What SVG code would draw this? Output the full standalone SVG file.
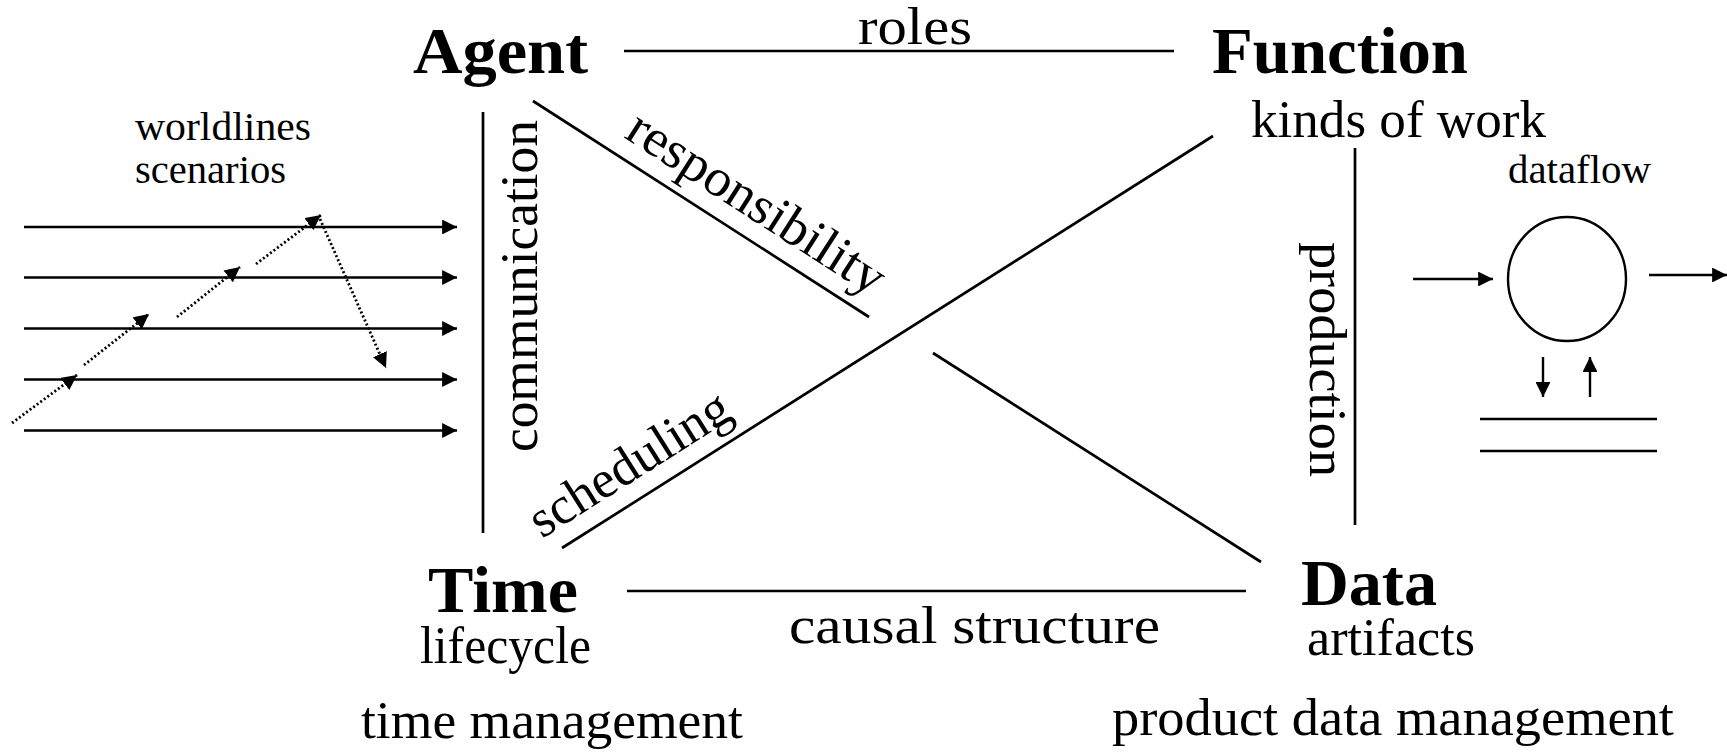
<svg xmlns="http://www.w3.org/2000/svg" width="1727" height="752" viewBox="0 0 1727 752">
<defs>
<style>
text{font-family:"Liberation Serif","Times New Roman",serif;fill:#000}
.title{font-size:66px;font-weight:bold}
.lab{font-size:53px}
.small{font-size:39px}
.edge{stroke:#000;stroke-width:2.7;fill:none}
.wl{stroke:#000;stroke-width:2.4;fill:none}
.dot{stroke:#000;stroke-width:2.8;fill:none;stroke-dasharray:2 2.4}
</style>
<marker id="ah" viewBox="0 0 10 10" refX="10" refY="5" markerWidth="6.4" markerHeight="6.2" markerUnits="strokeWidth" orient="auto">
<path d="M0,0 L10,5 L0,10 z" fill="#000"/>
</marker>
<marker id="ahd" viewBox="0 0 10 10" refX="10" refY="5" markerWidth="5.4" markerHeight="5.4" markerUnits="strokeWidth" orient="auto">
<path d="M0,0 L10,5 L0,10 z" fill="#000"/>
</marker>
</defs>
<rect width="1727" height="752" fill="#fff"/>

<g id="connectors">
<line class="edge" x1="624" y1="51" x2="1174" y2="51"/>
<line class="edge" x1="627" y1="591" x2="1246" y2="591"/>
<line class="edge" x1="483" y1="112" x2="483" y2="533"/>
<line class="edge" x1="1355" y1="148" x2="1355" y2="525"/>
<line class="edge" x1="533" y1="101" x2="869" y2="317"/>
<line class="edge" x1="933" y1="353" x2="1261" y2="562"/>
<line class="edge" x1="1213" y1="136" x2="562" y2="548"/>
<text class="lab" x="858" y="44" textLength="114" lengthAdjust="spacingAndGlyphs">roles</text>
<text class="lab" x="789" y="643" textLength="371" lengthAdjust="spacingAndGlyphs">causal structure</text>
<text class="lab" transform="translate(537,452) rotate(-90)" textLength="332" lengthAdjust="spacingAndGlyphs">communication</text>
<text class="lab" transform="translate(1310,242) rotate(90)" textLength="235" lengthAdjust="spacingAndGlyphs">production</text>
<text class="lab" transform="translate(623,137) rotate(32.7)" textLength="296" lengthAdjust="spacingAndGlyphs">responsibility</text>
<text class="lab" transform="translate(542,539) rotate(-32.3)" textLength="228" lengthAdjust="spacingAndGlyphs">scheduling</text>
</g>

<g id="agent">
<text class="title" x="413" y="73" textLength="175" lengthAdjust="spacingAndGlyphs">Agent</text>
</g>
<g id="function">
<text class="title" x="1212" y="73" textLength="256" lengthAdjust="spacingAndGlyphs">Function</text>
<text class="lab" x="1251" y="137" textLength="295" lengthAdjust="spacingAndGlyphs">kinds of work</text>
</g>
<g id="time">
<text class="title" x="428" y="612" textLength="150" lengthAdjust="spacingAndGlyphs">Time</text>
<text class="lab" x="420" y="663" textLength="171" lengthAdjust="spacingAndGlyphs">lifecycle</text>
<text class="lab" x="361" y="738" textLength="382" lengthAdjust="spacingAndGlyphs">time management</text>
</g>
<g id="data">
<text class="title" x="1301" y="605" textLength="136" lengthAdjust="spacingAndGlyphs">Data</text>
<text class="lab" x="1307" y="655" textLength="168" lengthAdjust="spacingAndGlyphs">artifacts</text>
<text class="lab" x="1112" y="735" textLength="562" lengthAdjust="spacingAndGlyphs">product data management</text>
</g>

<g id="worldlines">
<text class="small" x="135" y="140" textLength="176" lengthAdjust="spacingAndGlyphs">worldlines</text>
<text class="small" x="135" y="183" textLength="151" lengthAdjust="spacingAndGlyphs">scenarios</text>
<line class="wl" x1="24" y1="227" x2="457" y2="227" marker-end="url(#ah)"/>
<line class="wl" x1="24" y1="277.5" x2="457" y2="277.5" marker-end="url(#ah)"/>
<line class="wl" x1="24" y1="328.5" x2="457" y2="328.5" marker-end="url(#ah)"/>
<line class="wl" x1="24" y1="379.5" x2="457" y2="379.5" marker-end="url(#ah)"/>
<line class="wl" x1="24" y1="430.5" x2="457" y2="430.5" marker-end="url(#ah)"/>
<line class="dot" x1="12" y1="423" x2="77" y2="375" marker-end="url(#ahd)"/>
<line class="dot" x1="84" y1="365" x2="149" y2="314" marker-end="url(#ahd)"/>
<line class="dot" x1="177" y1="317" x2="240" y2="267" marker-end="url(#ahd)"/>
<line class="dot" x1="256" y1="264" x2="321" y2="215" marker-end="url(#ahd)"/>
<line class="dot" x1="320" y1="219" x2="386" y2="368" marker-end="url(#ahd)"/>
</g>

<g id="dataflow">
<text class="small" x="1508" y="183" textLength="143" lengthAdjust="spacingAndGlyphs">dataflow</text>
<ellipse cx="1567" cy="279" rx="59" ry="62" class="wl"/>
<line class="wl" x1="1413" y1="279" x2="1493" y2="279" marker-end="url(#ah)"/>
<line class="wl" x1="1649" y1="275" x2="1727" y2="275" marker-end="url(#ah)"/>
<line class="wl" x1="1543" y1="357" x2="1543" y2="397" marker-end="url(#ah)"/>
<line class="wl" x1="1590" y1="397" x2="1590" y2="357" marker-end="url(#ah)"/>
<line class="wl" x1="1480" y1="419" x2="1657" y2="419"/>
<line class="wl" x1="1480" y1="451" x2="1657" y2="451"/>
</g>
</svg>
